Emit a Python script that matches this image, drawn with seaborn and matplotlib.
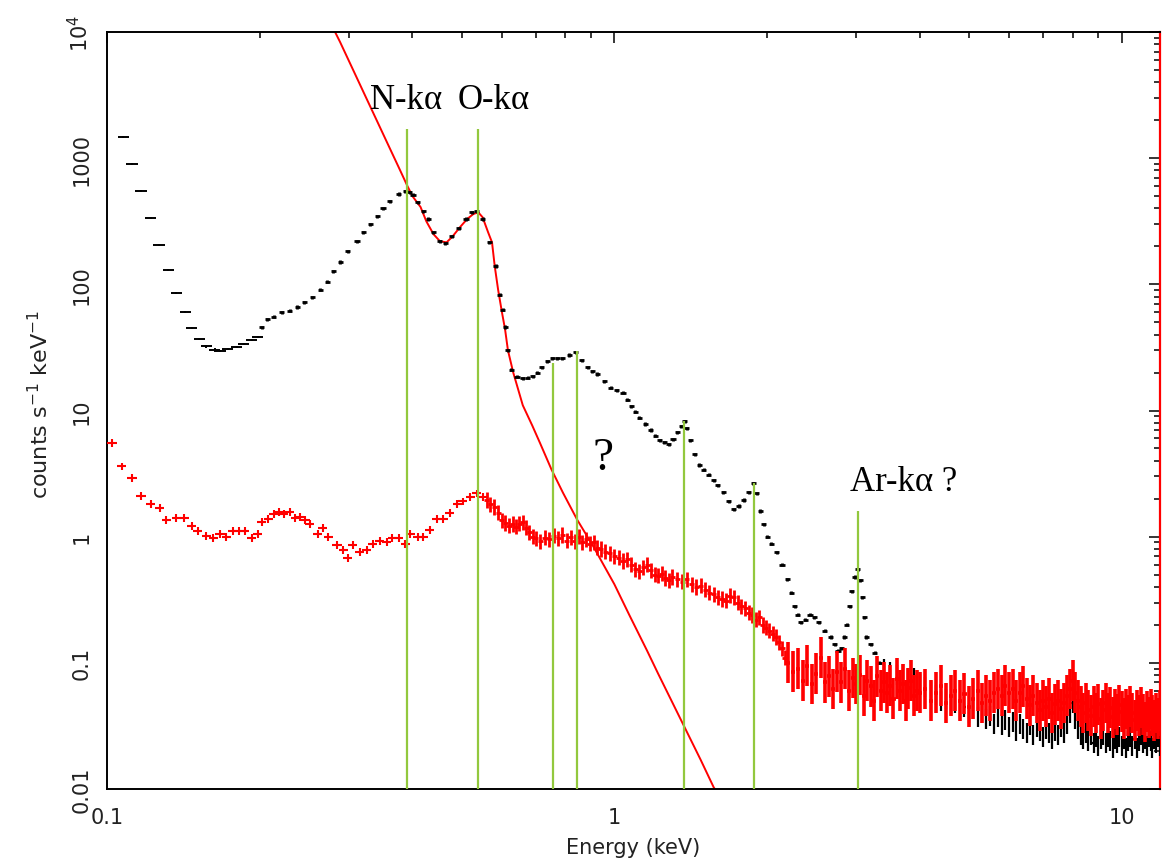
import numpy as np
import matplotlib
matplotlib.use("Agg")
import matplotlib.pyplot as plt
import seaborn as sns
from matplotlib.ticker import FixedLocator, FixedFormatter, LogLocator, NullFormatter

# ---------------- data ----------------
# black spectrum: sparse low-energy bins
blk_lo_E = [0.1076, 0.112, 0.1167, 0.122, 0.1266, 0.132, 0.137, 0.1426, 0.147, 0.152,
            0.157, 0.163, 0.167, 0.173, 0.18, 0.186, 0.193, 0.198]
blk_lo_v = [1470, 895, 547, 334, 204, 129, 85, 60, 45, 36.6,
            32.2, 30.4, 29.5, 30.5, 32, 33.5, 36, 38]

# black spectrum: dense mid-energy bins
blk_mid_E = [0.202, 0.207, 0.213, 0.221, 0.229, 0.237, 0.245, 0.254, 0.263, 0.272,
             0.279, 0.288, 0.298, 0.311, 0.32, 0.33, 0.341, 0.35, 0.361, 0.376,
             0.387, 0.395, 0.401, 0.41, 0.42, 0.43, 0.44, 0.453, 0.464, 0.478,
             0.493, 0.51, 0.524, 0.536, 0.55, 0.567, 0.584, 0.595, 0.603, 0.61,
             0.617, 0.627, 0.643, 0.66, 0.675, 0.69, 0.705, 0.72, 0.738, 0.755,
             0.772, 0.79, 0.815, 0.84, 0.862, 0.886, 0.905, 0.925, 0.955, 0.983,
             1.01, 1.04, 1.06, 1.08, 1.1, 1.12, 1.15, 1.18, 1.205, 1.23,
             1.255, 1.28, 1.305, 1.33, 1.355, 1.375, 1.39, 1.41, 1.44, 1.47,
             1.5, 1.535, 1.57, 1.6, 1.64, 1.68, 1.72, 1.76, 1.8, 1.84,
             1.88, 1.91, 1.94, 1.97, 2.0, 2.04, 2.09, 2.14, 2.19, 2.23,
             2.27, 2.3, 2.33, 2.38, 2.43, 2.48, 2.53, 2.6, 2.67, 2.72,
             2.76, 2.8, 2.84, 2.87, 2.91, 2.94, 2.98, 3.02, 3.05, 3.08,
             3.11, 3.14, 3.2, 3.26, 3.33]
blk_mid_v = [45.6, 52.8, 55.5, 60, 62, 66, 72, 79, 91, 105,
             127, 150, 183, 220, 258, 300, 347, 400, 455, 520,
             547, 535, 515, 448, 380, 330, 258, 220, 212, 240,
             278, 330, 373, 380, 330, 215, 140, 83, 63, 46,
             30, 21, 18.5, 18, 18.2, 18.6, 20, 22, 24.5, 26,
             26, 26, 27.5, 29, 25, 22, 20.5, 19.5, 17, 15.2,
             14.5, 13.8, 12.2, 10.8, 9.8, 8.8, 7.8, 7.0, 6.3, 5.8,
             5.6, 5.4, 5.9, 6.7, 7.5, 8.2, 7.2, 5.8, 4.5, 3.7,
             3.4, 3.1, 2.8, 2.55, 2.25, 1.9, 1.65, 1.75, 1.95, 2.25,
             2.65, 2.2, 1.6, 1.25, 1.0, 0.88, 0.75, 0.6, 0.46, 0.36,
             0.28, 0.24, 0.21, 0.22, 0.24, 0.23, 0.21, 0.18, 0.16, 0.14,
             0.125, 0.13, 0.16, 0.2, 0.28, 0.37, 0.48, 0.55, 0.45, 0.33,
             0.23, 0.16, 0.14, 0.12, 0.1]

# black spectrum: noisy high-energy bins
blk_hi_E = [3.4, 3.5, 3.6, 3.7, 3.8, 3.9, 4.0, 4.1, 4.2, 4.3,
            4.4, 4.5, 4.6, 4.7, 4.8, 4.9, 5.0, 5.1, 5.2, 5.3,
            5.4, 5.5, 5.6, 5.7, 5.8, 5.9, 6.0, 6.1, 6.2, 6.3,
            6.4, 6.5, 6.6, 6.7, 6.8, 6.9, 7.0, 7.1, 7.2, 7.3,
            7.4, 7.5, 7.6, 7.7, 7.8, 7.9, 8.0, 8.1, 8.2, 8.3,
            8.4, 8.5, 8.6, 8.7, 8.8, 8.9, 9.0, 9.1, 9.2, 9.3,
            9.4, 9.5, 9.6, 9.7, 9.8, 9.9, 10.0, 10.1, 10.2, 10.3,
            10.4, 10.5, 10.6, 10.7, 10.8, 10.9, 11.0, 11.1, 11.2, 11.3,
            11.4, 11.5, 11.6, 11.7, 11.8, 11.9, 12.0]
blk_hi_v = [0.09, 0.085, 0.08, 0.082, 0.074, 0.076, 0.068, 0.064, 0.06, 0.056,
            0.05, 0.052, 0.046, 0.048, 0.042, 0.045, 0.04, 0.043, 0.037, 0.04,
            0.036, 0.038, 0.033, 0.037, 0.032, 0.035, 0.031, 0.034, 0.029, 0.033,
            0.03, 0.028, 0.032, 0.027, 0.031, 0.029, 0.026, 0.03, 0.028, 0.025,
            0.029, 0.027, 0.031, 0.028, 0.033, 0.04, 0.048, 0.036, 0.03, 0.027,
            0.025, 0.028, 0.024, 0.027, 0.023, 0.026, 0.022, 0.025, 0.027, 0.023,
            0.026, 0.024, 0.021, 0.025, 0.023, 0.026, 0.022, 0.025, 0.021, 0.024,
            0.026, 0.022, 0.025, 0.021, 0.024, 0.027, 0.023, 0.025, 0.022, 0.026,
            0.024, 0.021, 0.025, 0.023, 0.026, 0.022, 0.024]

# red spectrum: low-energy bins
red_lo_E = [0.1023, 0.107, 0.112, 0.1167, 0.122, 0.127, 0.131, 0.137, 0.142, 0.147,
            0.151, 0.157, 0.162, 0.167, 0.172, 0.177, 0.182, 0.187, 0.193, 0.198,
            0.202, 0.208, 0.213, 0.218, 0.223, 0.229, 0.235, 0.24, 0.246, 0.251,
            0.26, 0.266, 0.273, 0.284, 0.292, 0.298, 0.305, 0.315, 0.325, 0.334,
            0.345, 0.356, 0.365, 0.376, 0.387, 0.396, 0.41, 0.42, 0.433, 0.447,
            0.46, 0.474, 0.49, 0.503, 0.52, 0.536, 0.55]
red_lo_v = [5.5, 3.6, 2.94, 2.11, 1.8, 1.7, 1.35, 1.4, 1.4, 1.22,
            1.1, 1.02, 0.98, 1.05, 1.0, 1.1, 1.1, 1.1, 0.97, 1.05,
            1.3, 1.38, 1.5, 1.57, 1.5, 1.58, 1.4, 1.42, 1.35, 1.26,
            1.05, 1.17, 1.0, 0.86, 0.78, 0.68, 0.86, 0.75, 0.78, 0.87,
            0.93, 0.9, 0.97, 0.98, 0.87, 1.05, 1.0, 1.0, 1.13, 1.37,
            1.37, 1.55, 1.8, 1.9, 2.05, 2.2, 2.05]

# red spectrum: mid-energy bins
red_mid_E = [0.56, 0.57, 0.58, 0.59, 0.60, 0.61, 0.62, 0.63, 0.64, 0.65,
             0.66, 0.67, 0.68, 0.69, 0.70, 0.715, 0.73, 0.745, 0.76, 0.775,
             0.79, 0.805, 0.82, 0.835, 0.85, 0.865, 0.88, 0.895, 0.91, 0.925,
             0.94, 0.96, 0.98, 1.00, 1.02, 1.04, 1.06, 1.08, 1.10, 1.12,
             1.14, 1.16, 1.18, 1.20, 1.22, 1.24, 1.26, 1.28, 1.30, 1.33,
             1.36, 1.39, 1.42, 1.45, 1.48, 1.51, 1.54, 1.57, 1.60, 1.63,
             1.66, 1.69, 1.72, 1.75, 1.78, 1.81, 1.84, 1.87, 1.90, 1.93,
             1.96, 1.99, 2.02, 2.05, 2.08, 2.11, 2.14, 2.17]
red_mid_v = [1.95, 1.8, 1.72, 1.55, 1.35, 1.28, 1.22, 1.26, 1.2, 1.27,
             1.3, 1.18, 1.08, 1.0, 0.97, 0.92, 0.98, 0.95, 1.02, 0.97,
             1.03, 0.93, 0.99, 0.92, 1.0, 0.9, 0.95, 0.88, 0.9, 0.82,
             0.8, 0.76, 0.74, 0.7, 0.68, 0.64, 0.66, 0.6, 0.55, 0.53,
             0.57, 0.6, 0.54, 0.5, 0.49, 0.51, 0.47, 0.45, 0.48, 0.46,
             0.44, 0.46, 0.42, 0.4, 0.41, 0.38, 0.36, 0.35, 0.33, 0.32,
             0.31, 0.34, 0.33, 0.3, 0.28, 0.27, 0.25, 0.24, 0.22, 0.23,
             0.2, 0.19, 0.18, 0.17, 0.16, 0.145, 0.13, 0.11]

# red spectrum: noisy high-energy bins
red_hi_E = [2.20, 2.25, 2.30, 2.35, 2.40, 2.45, 2.50, 2.55, 2.60, 2.65,
            2.70, 2.75, 2.80, 2.85, 2.90, 2.95, 3.00, 3.05, 3.10, 3.15,
            3.20, 3.25, 3.30, 3.35, 3.40, 3.45, 3.50, 3.55, 3.60, 3.65,
            3.70, 3.75, 3.80, 3.85, 3.90, 3.95, 4.00,
            4.1, 4.2, 4.3, 4.4, 4.5, 4.6, 4.7, 4.8, 4.9, 5.0,
            5.1, 5.2, 5.3, 5.4, 5.5, 5.6, 5.7, 5.8, 5.9, 6.0,
            6.1, 6.2, 6.3, 6.4, 6.5, 6.6, 6.7, 6.8, 6.9, 7.0,
            7.1, 7.2, 7.3, 7.4, 7.5, 7.6, 7.7, 7.8, 7.9, 8.0,
            8.1, 8.2, 8.3, 8.4, 8.5, 8.6, 8.7, 8.8, 8.9, 9.0,
            9.1, 9.2, 9.3, 9.4, 9.5, 9.6, 9.7, 9.8, 9.9, 10.0,
            10.1, 10.2, 10.3, 10.4, 10.5, 10.6, 10.7, 10.8, 10.9, 11.0,
            11.1, 11.2, 11.3, 11.4, 11.5, 11.6, 11.7, 11.8, 11.9, 12.0]
red_hi_v = [0.10, 0.085, 0.09, 0.072, 0.095, 0.068, 0.082, 0.11, 0.07, 0.078,
            0.062, 0.085, 0.07, 0.09, 0.06, 0.076, 0.068, 0.08, 0.055, 0.072,
            0.065, 0.05, 0.078, 0.06, 0.07, 0.058, 0.066, 0.052, 0.075, 0.06,
            0.068, 0.05, 0.063, 0.072, 0.055, 0.06, 0.058,
            0.062, 0.05, 0.058, 0.066, 0.048, 0.055, 0.06, 0.05, 0.057, 0.045,
            0.052, 0.06, 0.048, 0.055, 0.05, 0.058, 0.062, 0.055, 0.066, 0.058,
            0.062, 0.05, 0.058, 0.065, 0.052, 0.046, 0.055, 0.048, 0.042, 0.05,
            0.045, 0.052, 0.04, 0.047, 0.05, 0.043, 0.048, 0.055, 0.062, 0.072,
            0.058, 0.05, 0.045, 0.04, 0.048, 0.042, 0.038, 0.045, 0.04, 0.047,
            0.036, 0.042, 0.048, 0.04, 0.044, 0.037, 0.043, 0.039, 0.046, 0.041,
            0.036, 0.043, 0.038, 0.045, 0.04, 0.035, 0.042, 0.038, 0.044, 0.039,
            0.034, 0.041, 0.037, 0.043, 0.038, 0.035, 0.04, 0.036, 0.042, 0.038]

# red model curve
model_E = [0.27, 0.288, 0.302, 0.315, 0.326, 0.341, 0.356, 0.376, 0.391, 0.40,
           0.415, 0.426, 0.44, 0.453, 0.467, 0.48, 0.496, 0.513, 0.527, 0.539,
           0.55, 0.564, 0.574, 0.581, 0.59, 0.60, 0.609, 0.617, 0.632, 0.66,
           0.689, 0.714, 0.752, 0.792, 0.845, 0.91, 1.0, 1.07, 1.16, 1.22,
           1.48, 1.57, 1.62]
model_v = [14000, 8330, 5540, 3855, 2870, 1950, 1347, 843, 601, 500,
           410, 316, 250, 220, 215, 240, 283, 330, 360, 373,
           340, 258, 215, 140, 91, 61, 44, 30, 20, 11,
           7.6, 5.5, 3.4, 2.23, 1.36, 0.83, 0.42, 0.24, 0.125, 0.082,
           0.017, 0.0103, 0.0085]

# line markers (energy, top of marker line)
line_E = [0.391, 0.539, 0.758, 0.845, 1.374, 1.888, 3.02]
line_top = [1700, 1700, 24, 29.4, 8.2, 2.64, 1.61]

# ---------------- style ----------------
sns.set_style("white")
plt.rcParams['font.family'] = ['DejaVu Sans']
plt.rcParams['mathtext.default'] = 'regular'

fig = plt.figure(figsize=(11.63, 8.62), dpi=100)
ax = fig.add_axes([107 / 1163, 1 - 790 / 862, 1053 / 1163, 757 / 862])
ax.set_xscale('log')
ax.set_yscale('log')

TXT = '#222222'


def xerr_of(E, h):
    E = np.asarray(E, dtype=float)
    return np.vstack([E * (1 - 10 ** (-h)), E * (10 ** h - 1)])


def yerr_of(v, r):
    v = np.asarray(v, dtype=float)
    return np.vstack([v * (1 - 1 / (1 + r)), v * r])


# model curve (seaborn)
sns.lineplot(x=model_E, y=model_v, ax=ax, color='#ff0000', linewidth=1.4,
             estimator=None, sort=False, zorder=2)

# black data
ax.errorbar(blk_lo_E, blk_lo_v, xerr=xerr_of(blk_lo_E, 0.011), yerr=yerr_of(blk_lo_v, 0.02),
            fmt='none', ecolor='black', elinewidth=1.4, capsize=0, zorder=3)
ax.errorbar(blk_mid_E, blk_mid_v, xerr=xerr_of(blk_mid_E, 0.005), yerr=yerr_of(blk_mid_v, 0.03),
            fmt='none', ecolor='black', elinewidth=2.0, capsize=0, zorder=3)
ax.errorbar(blk_hi_E, blk_hi_v, xerr=xerr_of(blk_hi_E, 0.002), yerr=yerr_of(blk_hi_v, 0.2),
            fmt='none', ecolor='black', elinewidth=1.6, capsize=0, zorder=3)

# red data
ax.errorbar(red_lo_E, red_lo_v, xerr=xerr_of(red_lo_E, 0.009), yerr=yerr_of(red_lo_v, 0.075),
            fmt='none', ecolor='#ff0000', elinewidth=1.5, capsize=0, zorder=4)
ax.errorbar(red_mid_E, red_mid_v, xerr=xerr_of(red_mid_E, 0.005), yerr=yerr_of(red_mid_v, 0.15),
            fmt='none', ecolor='#ff0000', elinewidth=2.0, capsize=0, zorder=4)
ax.errorbar(red_hi_E, red_hi_v, xerr=xerr_of(red_hi_E, 0.004), yerr=yerr_of(red_hi_v, 0.45),
            fmt='none', ecolor='#ff0000', elinewidth=2.6, capsize=0, zorder=4)

# green marker lines
ax.vlines(line_E, 0.01, line_top, colors='#92c83e', linewidth=1.6, zorder=5)

# axes limits & ticks
ax.set_xlim(0.1, 11.9)
ax.set_ylim(0.01, 1e4)

ax.xaxis.set_major_locator(FixedLocator([0.1, 1, 10]))
ax.xaxis.set_major_formatter(FixedFormatter(['0.1', '1', '10']))
ax.xaxis.set_minor_locator(LogLocator(base=10, subs=np.arange(2, 10)))
ax.xaxis.set_minor_formatter(NullFormatter())

yt = [0.01, 0.1, 1, 10, 100, 1000, 1e4]
ax.yaxis.set_major_locator(FixedLocator(yt))
ax.yaxis.set_major_formatter(FixedFormatter(['0.01', '0.1', '1', '10', '100', '1000', '10$^4$']))
ax.yaxis.set_minor_locator(LogLocator(base=10, subs=np.arange(2, 10)))
ax.yaxis.set_minor_formatter(NullFormatter())

ax.tick_params(which='both', direction='in', top=True, right=True, colors='black',
               labelcolor=TXT, width=1.1)
ax.tick_params(which='major', length=8, labelsize=15)
ax.tick_params(which='minor', length=4.5)
ax.tick_params(axis='x', which='major', pad=13)
ax.tick_params(axis='y', which='major', pad=11)
for lab in ax.get_yticklabels():
    lab.set_rotation(90)
    lab.set_va('center')
    lab.set_ha('right')

for s in ['left', 'bottom', 'top']:
    ax.spines[s].set_color('black')
    ax.spines[s].set_linewidth(1.4)
ax.spines['right'].set_color('#ff0000')
ax.spines['right'].set_linewidth(1.6)

ax.set_xlabel('Energy (keV)', fontsize=15, color=TXT)
ax.set_ylabel('counts s$^{-1}$ keV$^{-1}$', fontsize=16, color=TXT)
ax.xaxis.label.set_va('center')
ax.xaxis.label.set_ha('center')
ax.yaxis.label.set_va('center')
ax.yaxis.label.set_ha('center')
ax.xaxis.set_label_coords(0.4995, -0.077)
ax.yaxis.set_label_coords(-0.064, 0.509)

# annotations
serif = ['Liberation Serif', 'DejaVu Serif']
ax.text(0.330, 2940, 'N-kα', family=serif, fontsize=25, color='black', ha='left', va='center')
ax.text(0.492, 2940, 'O-kα', family=serif, fontsize=25, color='black', ha='left', va='center')
ax.text(0.951, 4.24, '?', family=serif, fontsize=34, color='black', ha='center', va='center')
ax.text(2.92, 2.73, 'Ar-kα ?', family=serif, fontsize=25, color='black', ha='left', va='center')

fig.savefig('out.png', dpi=100)
